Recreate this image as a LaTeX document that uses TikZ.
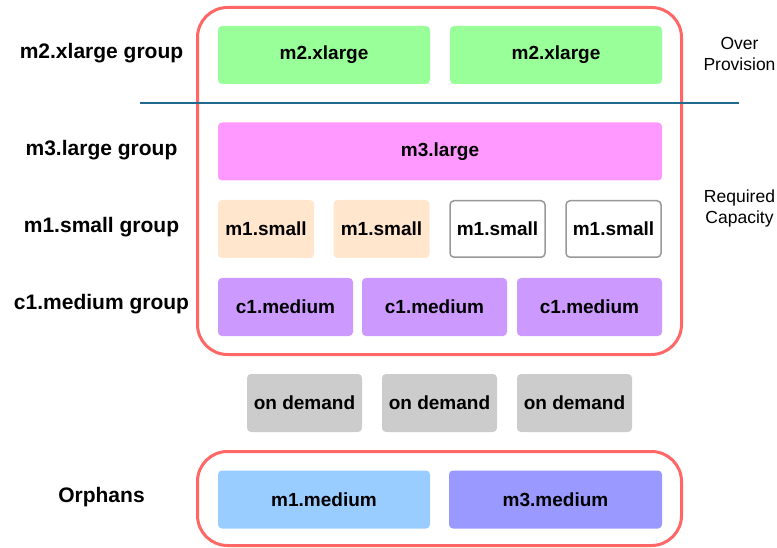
\documentclass[tikz,border=0pt]{standalone}
\usepackage{fontspec}
\setmainfont{Liberation Sans}
\usetikzlibrary{positioning}

\definecolor{grpred}{HTML}{FF6666}
\definecolor{cutblue}{HTML}{23698F}
\definecolor{xlgreen}{HTML}{99FF99}
\definecolor{lgpink}{HTML}{FF99FF}
\definecolor{smpeach}{HTML}{FFE6CC}
\definecolor{mdviolet}{HTML}{CC99FF}
\definecolor{odgray}{HTML}{CCCCCC}
\definecolor{mmblue}{HTML}{99CCFF}
\definecolor{mmpurple}{HTML}{9999FF}

\begin{document}
\begin{tikzpicture}[x=1pt,y=-1pt,
  vm/.style={rounded corners=4pt,minimum height=58pt,inner sep=0pt,
    font=\fontsize{19}{22}\selectfont\bfseries},
  grp/.style={draw=grpred,line width=3pt,rounded corners=30pt,inner sep=0pt},
  rowlabel/.style={font=\fontsize{21}{24}\selectfont\bfseries},
  sidelabel/.style={align=center,inner sep=0pt,font=\fontsize{17.5}{21}\selectfont}]
  \useasboundingbox (0,0) rectangle (777,548);

  % groups
  \node[grp,minimum width=484pt,minimum height=347pt] (reqgrp) at (439.5,181) {};
  \node[grp,minimum width=484pt,minimum height=94pt] (orphgrp) at (439.5,498.5) {};

  % over provision cut
  \coordinate (cutl) at (140,103);
  \coordinate (cutr) at (739,103);
  \draw[cutblue,line width=1.5pt] (cutl) -- (cutr);

  % row labels
  \node[rowlabel] (lxl) at (101.5,53) {m2.xlarge group};
  \node[rowlabel] (llg) at (101.5,150) {m3.large group};
  \node[rowlabel] (lsm) at (101.5,227) {m1.small group};
  \node[rowlabel] (lmd) at (101.5,304) {c1.medium group};
  \node[rowlabel] (lor) at (101.5,497) {Orphans};

  \node[sidelabel] (over) at (739.5,54) {Over\\Provision};
  \node[sidelabel] (req) at (739.5,208) {Required\\Capacity};

  % instances
  \foreach \x/\n in {324/1,556/2}
    \node[vm,fill=xlgreen,minimum width=212pt] (xl\n) at (\x,55) {m2.xlarge};
  \node[vm,fill=lgpink,minimum width=444pt] (lg) at (440,151.5) {m3.large};
  \foreach \x/\n in {266/1,381.5/2}
    \node[vm,fill=smpeach,minimum width=96pt] (sm\n) at (\x,229) {m1.small};
  \foreach \x/\n in {497.5/3,613.5/4}
    \node[vm,draw=gray!80,line width=1.5pt,fill=white,minimum width=95pt,minimum height=56.5pt] (sm\n) at (\x,229) {m1.small};
  \node[vm,fill=mdviolet,minimum width=135pt] (md1) at (285.5,307) {c1.medium};
  \foreach \x/\n in {434.5/2,589.5/3}
    \node[vm,fill=mdviolet,minimum width=145pt] (md\n) at (\x,307) {c1.medium};
  \foreach \x/\n in {304.5/1,439.5/2,574.5/3}
    \node[vm,fill=odgray,minimum width=115pt] (od\n) at (\x,403) {on demand};
  \node[vm,fill=mmblue,minimum width=212pt] (orm1) at (324,499.5) {m1.medium};
  \node[vm,fill=mmpurple,minimum width=213pt] (orm3) at (555.5,499.5) {m3.medium};
\end{tikzpicture}
\end{document}
